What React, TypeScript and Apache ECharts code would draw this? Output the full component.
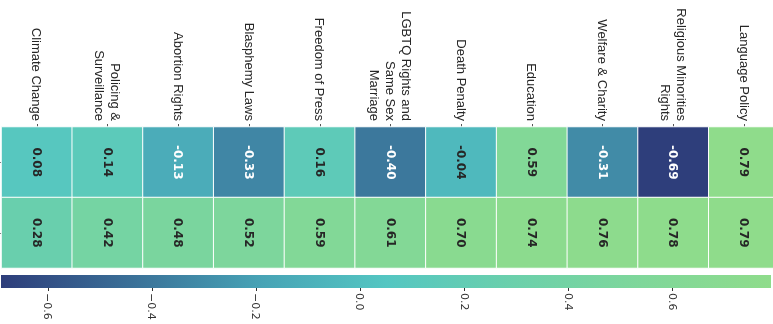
import React, { useEffect, useRef } from "react";
import * as echarts from "echarts";

const topics = [
  "Climate Change",
  "Policing &\nSurveillance",
  "Abortion Rights",
  "Blasphemy Laws",
  "Freedom of Press",
  "LGBTQ Rights and\nSame Sex\nMarriage",
  "Death Penalty",
  "Education",
  "Welfare & Charity",
  "Religious Minorities\nRights",
  "Language Policy",
];
const groups = ["Row 1", "Row 2"];
const rowTop = [0.08, 0.14, -0.13, -0.33, 0.16, -0.4, -0.04, 0.59, -0.31, -0.69, 0.79];
const rowBottom = [0.28, 0.42, 0.48, 0.52, 0.59, 0.61, 0.7, 0.74, 0.76, 0.78, 0.79];
const colorbarTicks = [-0.6, -0.4, -0.2, 0, 0.2, 0.4, 0.6];
const colorbarTitle = "Polarization Score";
const palette = ["#2e3e7b", "#3a6f97", "#47a2b5", "#54c6c2", "#6bd0ab", "#7fd79a", "#8fdc8b"];

export default function App() {
  const ref = useRef<HTMLDivElement>(null);
  useEffect(() => {
    if (!ref.current) return;
    const chart = echarts.init(ref.current, null, { renderer: "svg" });
    const rows = [rowTop, rowBottom];
    const all = rows.flat();
    const vMin = Math.min(...all);
    const vMax = Math.max(...all);
    const data: any[] = [];
    rows.forEach((row, y) =>
      row.forEach((v, x) => {
        data.push({
          value: [x, y, v],
          label: { color: v < -0.1 ? "#ffffff" : "#262626" },
        });
      })
    );
    const stops = palette.map((c, i) => ({ offset: i / (palette.length - 1), color: c }));
    chart.setOption({
      animation: false,
      grid: [
        { left: 1.5, top: 127, width: 778, height: 141, outerBoundsMode: "none", containLabel: false },
        { left: 1, top: 275, width: 770, height: 13, outerBoundsMode: "none", containLabel: false },
      ],
      xAxis: [
        {
          type: "category",
          data: topics,
          position: "top",
          gridIndex: 0,
          axisLine: { show: false },
          axisTick: { show: true, alignWithLabel: true, length: 3, lineStyle: { color: "#555" } },
          axisLabel: {
            rotate: 90,
            fontSize: 13,
            lineHeight: 16,
            color: "#262626",
            margin: 6,
            fontFamily: "Liberation Sans, Arial, sans-serif",
          },
          splitLine: { show: false },
        },
        {
          type: "value",
          gridIndex: 1,
          min: vMin,
          max: vMax,
          position: "bottom",
          axisLine: { show: false },
          splitLine: { show: false },
          axisTick: { show: true, customValues: colorbarTicks, length: 3, lineStyle: { color: "#333" } },
          axisLabel: {
            customValues: colorbarTicks,
            rotate: -90,
            fontSize: 11,
            margin: 5,
            color: "#333",
            fontFamily: "DejaVu Sans, sans-serif",
            formatter: (v: number) => (v < 0 ? "\u2212" + Math.abs(v).toFixed(1) : v.toFixed(1)),
          },
          name: colorbarTitle,
          nameLocation: "middle",
          nameGap: 38,
          nameTextStyle: { fontSize: 12, color: "#333", fontFamily: "DejaVu Sans, sans-serif" },
        },
      ],
      yAxis: [
        {
          type: "category",
          data: groups,
          inverse: true,
          gridIndex: 0,
          axisLine: { show: false },
          axisTick: { show: true, alignWithLabel: true, length: 3, lineStyle: { color: "#555" } },
          axisLabel: { show: false },
          splitLine: { show: false },
        },
        {
          type: "value",
          gridIndex: 1,
          min: 0,
          max: 1,
          show: false,
        },
      ],
      visualMap: {
        show: false,
        seriesIndex: 0,
        dimension: 2,
        min: vMin,
        max: vMax,
        inRange: { color: palette },
      },
      series: [
        {
          type: "heatmap",
          xAxisIndex: 0,
          yAxisIndex: 0,
          data,
          itemStyle: { borderColor: "#ffffff", borderWidth: 1 },
          label: {
            show: true,
            rotate: -90,
            fontSize: 12,
            fontWeight: "bold",
            fontFamily: "DejaVu Sans, sans-serif",
            formatter: (p: any) => p.value[2].toFixed(2),
          },
          emphasis: { disabled: true },
        },
        {
          type: "custom",
          xAxisIndex: 1,
          yAxisIndex: 1,
          silent: true,
          data: [[vMin, vMax]],
          encode: { x: [0, 1] },
          renderItem: (params: any, api: any) => {
            const x0 = api.coord([api.value(0), 0])[0];
            const x1 = api.coord([api.value(1), 0])[0];
            const cs = params.coordSys;
            return {
              type: "rect",
              shape: { x: x0, y: cs.y, width: x1 - x0, height: cs.height },
              style: { fill: new echarts.graphic.LinearGradient(0, 0, 1, 0, stops) },
            };
          },
        },
      ],
    });
    return () => chart.dispose();
  }, []);
  return (
    <div
      ref={ref}
      style={{ position: "fixed", left: 0, top: 0, width: 773, height: 324 }}
    />
  );
}
